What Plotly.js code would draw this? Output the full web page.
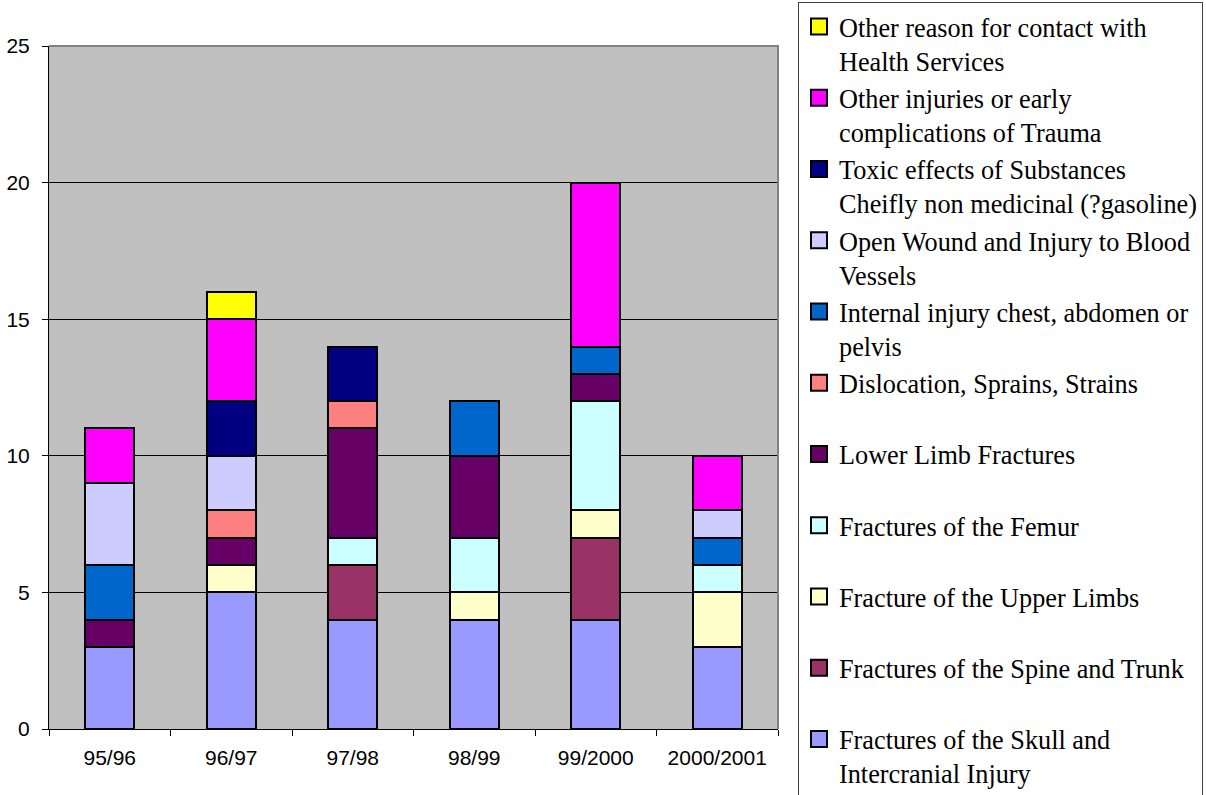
<!DOCTYPE html>
<html>
<head>
<meta charset="utf-8">
<script src="https://cdn.plot.ly/plotly-3.0.1.min.js"></script>
<style>html,body{margin:0;padding:0;background:#fff;}#chart{width:1206px;height:795px;}</style>
</head>
<body>
<div id="chart"></div>
<script>
const categories = ["95/96", "96/97", "97/98", "98/99", "99/2000", "2000/2001"];

const seriesNames = [
  "Fractures of the Skull and<br>Intercranial Injury",
  "Fractures of the Spine and Trunk",
  "Fracture of the Upper Limbs",
  "Fractures of the Femur",
  "Lower Limb Fractures",
  "Dislocation, Sprains, Strains",
  "Internal injury chest, abdomen or<br>pelvis",
  "Open Wound and Injury to Blood<br>Vessels",
  "Toxic effects of Substances<br>Cheifly non medicinal (?gasoline)",
  "Other injuries or early<br>complications of Trauma",
  "Other reason for contact with<br>Health Services"
];

const skull       = [3, 5, 4, 4, 4, 3];
const spine       = [0, 0, 2, 0, 3, 0];
const upperLimbs  = [0, 1, 0, 1, 1, 2];
const femur       = [0, 0, 1, 2, 4, 1];
const lowerLimb   = [1, 1, 4, 3, 1, 0];
const dislocation = [0, 1, 1, 0, 0, 0];
const internal    = [2, 0, 0, 2, 1, 1];
const openWound   = [3, 2, 0, 0, 0, 1];
const toxic       = [0, 2, 2, 0, 0, 0];
const otherInj    = [2, 3, 0, 0, 6, 2];
const otherReason = [0, 1, 0, 0, 0, 0];

const seriesValues = [skull, spine, upperLimbs, femur, lowerLimb, dislocation,
                      internal, openWound, toxic, otherInj, otherReason];

const seriesColors = ["#9999FF", "#993366", "#FFFFCC", "#CCFFFF", "#660066", "#FF8080",
                      "#0066CC", "#CCCCFF", "#000080", "#FF00FF", "#FFFF00"];

const barTraces = seriesNames.map((name, i) => ({
  type: "bar",
  name: name.replace("<br>", " "),
  legendgroup: "g" + i,
  showlegend: false,
  x: categories,
  y: seriesValues[i].map(v => v === 0 ? null : v),
  marker: {color: seriesColors[i], line: {color: "#000000", width: 2}},
  hoverinfo: "x+y+name"
}));

// legend-only entries (square swatches like the reference)
const legendTraces = seriesNames.map((name, i) => ({
  type: "scatter",
  mode: "markers",
  name: name.indexOf("<br>") >= 0 ? name : name + "<br>\u00a0",
  legendgroup: "g" + i,
  legendrank: 1000 - i,
  showlegend: true,
  x: [null],
  y: [null],
  marker: {symbol: "square", size: 16, color: seriesColors[i], line: {color: "#000000", width: 2}},
  hoverinfo: "skip"
}));

const layout = {
  width: 1206,
  height: 795,
  barmode: "stack",
  bargap: 0.6,
  paper_bgcolor: "#FFFFFF",
  plot_bgcolor: "#C0C0C0",
  margin: {l: 49, r: 428, t: 46, b: 66, pad: 0},
  font: {family: "Arial, 'Liberation Sans', sans-serif", size: 21, color: "#000000"},
  xaxis: {
    type: "category",
    tickson: "boundaries",
    ticks: "outside",
    ticklen: 6,
    tickcolor: "#000000",
    showline: true,
    linecolor: "#000000",
    linewidth: 1,
    showgrid: false,
    ticklabelstandoff: 10,
    tickfont: {family: "Arial, 'Liberation Sans', sans-serif", size: 21, color: "#000000"}
  },
  yaxis: {
    range: [0, 25],
    dtick: 5,
    ticks: "outside",
    ticklen: 6,
    tickcolor: "#000000",
    showline: true,
    linecolor: "#000000",
    linewidth: 1,
    showgrid: true,
    gridcolor: "#000000",
    gridwidth: 1,
    zeroline: false,
    ticklabelstandoff: 8,
    tickfont: {family: "Arial, 'Liberation Sans', sans-serif", size: 21, color: "#000000"}
  },
  shapes: [{
    type: "path",
    xref: "paper", yref: "paper",
    path: "M0,1 L1,1 L1,0",
    line: {color: "#808080", width: 2},
    layer: "above"
  }],
  showlegend: true,
  legend: {
    xref: "container", yref: "container",
    x: 798 / 1206, xanchor: "left",
    y: 1 - 2 / 795, yanchor: "top",
    traceorder: "grouped",
    tracegroupgap: 0,
    maxheight: 900,
    entrywidth: 400,
    entrywidthmode: "pixels",
    valign: "top",
    bgcolor: "#FFFFFF",
    bordercolor: "#404040",
    borderwidth: 1,
    font: {family: "'Times New Roman', 'Liberation Serif', serif", size: 26.25, color: "#000000"}
  }
};

Plotly.newPlot("chart", barTraces.concat(legendTraces), layout, {displayModeBar: false, responsive: false});
</script>
</body>
</html>
